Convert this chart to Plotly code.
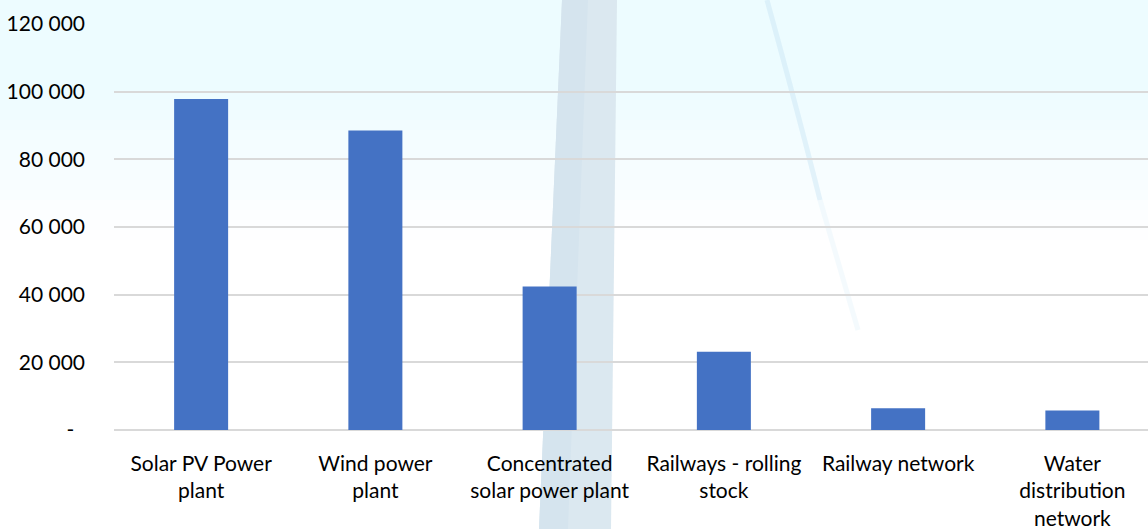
import plotly.graph_objects as go

categories = ["Solar PV Power<br>plant", "Wind power<br>plant", "Concentrated<br>solar power plant",
              "Railways - rolling<br>stock", "Railway network", "Water<br>distribution<br>network"]
values = [97800, 88500, 42400, 23100, 6400, 5800]
tick_vals = [0, 20000, 40000, 60000, 80000, 100000, 120000]
tick_text = ["-\u00a0\u00a0", "20 000", "40 000", "60 000", "80 000", "100 000", "120 000"]

W, H = 1148, 529
L, R, T, B = 114, 0, 24, 99
PW, PH = W - L - R, H - T - B

def px(x):
    return (x - L) / PW

def py(y):
    return (H - B - y) / PH

shapes = []
# sky gradient (top light cyan fading to white)
strips = 24
for i in range(strips):
    y0 = i * 240 / strips
    y1 = (i + 1) * 240 / strips
    ym = (y0 + y1) / 2
    t = 0 if ym < 80 else min(1.0, (ym - 80) / 160)
    r = int(237 + (255 - 237) * t)
    g = int(252 + (255 - 252) * t)
    b = 255
    shapes.append(dict(type="rect", xref="paper", yref="paper", x0=px(0), x1=px(W),
                       y0=py(y1), y1=py(y0), fillcolor=f"rgb({r},{g},{b})",
                       line=dict(width=0), layer="below"))
# turbine tower
shapes.append(dict(type="path", xref="paper", yref="paper",
                   path=f"M {px(562)},{py(0)} L {px(617)},{py(0)} L {px(611)},{py(H)} L {px(539)},{py(H)} Z",
                   fillcolor="rgb(219,232,240)", line=dict(width=0), layer="below"))
shapes.append(dict(type="path", xref="paper", yref="paper",
                   path=f"M {px(562)},{py(0)} L {px(588)},{py(0)} L {px(568)},{py(H)} L {px(539)},{py(H)} Z",
                   fillcolor="rgb(213,228,238)", line=dict(width=0), layer="below"))
# far blade
shapes.append(dict(type="path", xref="paper", yref="paper",
                   path=f"M {px(767)},{py(0)} Q {px(800)},{py(120)} {px(820)},{py(200)}",
                   line=dict(color="rgba(200,228,243,0.45)", width=5), layer="below"))
shapes.append(dict(type="path", xref="paper", yref="paper",
                   path=f"M {px(820)},{py(200)} L {px(858)},{py(330)}",
                   line=dict(color="rgba(210,234,247,0.25)", width=5), layer="below"))

fig = go.Figure(go.Bar(x=categories, y=values, marker=dict(color="#4472C4", line=dict(width=0)),
                       width=0.31))

fig.update_layout(
    width=W, height=H,
    margin=dict(l=L, r=R, t=T, b=B, pad=0),
    paper_bgcolor="white",
    plot_bgcolor="rgba(0,0,0,0)",
    showlegend=False,
    shapes=shapes,
    font=dict(family="Lato, Open Sans, sans-serif", size=22, color="#000000"),
)
fig.update_yaxes(range=[0, 120000], tickvals=tick_vals, ticktext=tick_text,
                 showgrid=True, gridcolor="#d9d9d9", gridwidth=1.5,
                 zeroline=True, zerolinecolor="#d9d9d9", zerolinewidth=1.5,
                 showline=False, ticks="", ticklabelstandoff=28, automargin=False,
                 tickfont=dict(size=21))
fig.update_xaxes(range=[-0.5, 5.434], showgrid=False, showline=False, ticks="",
                 ticklabelstandoff=19, tickfont=dict(size=21), tickangle=0, automargin=False)

fig.write_html("out.html")
